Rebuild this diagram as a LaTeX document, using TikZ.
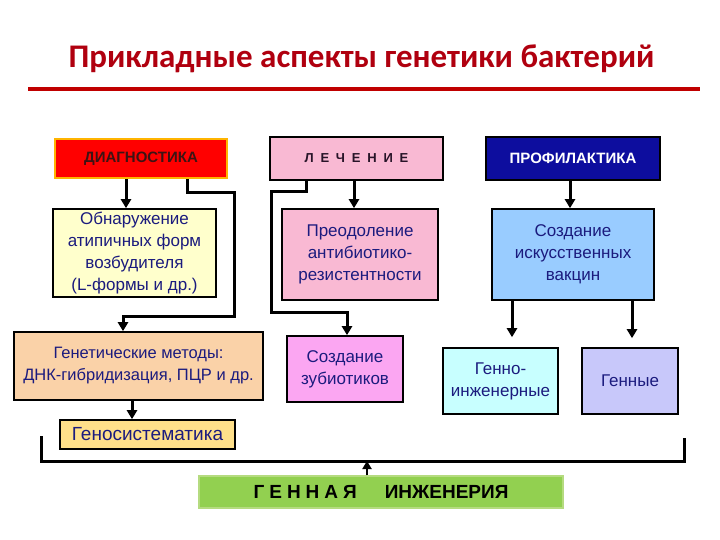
\documentclass[tikz,border=0pt]{standalone}
\usepackage{fontspec}
\setmainfont{Liberation Sans}
\newfontfamily\titlefont{Carlito}
\usetikzlibrary{arrows.meta}
\definecolor{titred}{HTML}{B0000F}
\definecolor{linered}{HTML}{C00000}
\definecolor{txtblue}{HTML}{1B1B7E}
\definecolor{diagred}{HTML}{FF0000}
\definecolor{diagborder}{HTML}{FFB400}
\definecolor{pinkA}{HTML}{F9B9D3}
\definecolor{profblue}{HTML}{0D0D9E}
\definecolor{yellowA}{HTML}{FFFFCC}
\definecolor{blueA}{HTML}{99CCFF}
\definecolor{peach}{HTML}{FAD2A8}
\definecolor{goldA}{HTML}{FFE08A}
\definecolor{violetA}{HTML}{FBA6F2}
\definecolor{cyanA}{HTML}{C8FFFF}
\definecolor{lavA}{HTML}{C8C8FA}
\definecolor{greenA}{HTML}{92D050}
\definecolor{greenB}{HTML}{B5DB80}
\tikzset{
  box/.style={draw=black, line width=1.6pt, align=center, inner sep=2pt, text=txtblue,
    font=\fontsize{17}{22}\selectfont},
  head/.style={box, font=\bfseries\fontsize{15}{18}\selectfont},
  conn/.style={draw=black, line width=3pt},
  arr/.style={conn, -{Triangle[length=9pt,width=10pt]}},
}
\begin{document}
\begin{tikzpicture}[x=1pt,y=-1pt]
\fill[white] (0,0) rectangle (720,540);
\useasboundingbox (0,0) rectangle (720,540);
% title
\node[anchor=base, text=titred, font=\titlefont\bfseries\fontsize{33}{40}\selectfont, inner sep=0] (title) at (361.5,68) {Прикладные аспекты генетики бактерий};
\draw[linered, line width=3.5pt] (28,89) coordinate (ul1) -- (700,89) coordinate (ul2);
% header row
\node[head, fill=diagred, draw=diagborder, text={rgb,255:red,60;green,20;blue,20}, minimum width=172pt, minimum height=39pt] (diag) at (141,158.5) {ДИАГНОСТИКА};
\node[head, fill=pinkA, text={rgb,255:red,40;green,20;blue,40}, font=\bfseries\fontsize{13}{16}\selectfont, minimum width=173pt, minimum height=43pt] (lech) at (356.5,158.5) {Л\hspace{6.8pt}Е\hspace{6.8pt}Ч\hspace{6.8pt}Е\hspace{6.8pt}Н\hspace{6.8pt}И\hspace{6.8pt}Е};
\node[head, fill=profblue, text=white, minimum width=174pt, minimum height=43pt] (prof) at (573,158.5) {ПРОФИЛАКТИКА};
% second row
\node[box, fill=yellowA, minimum width=163pt, minimum height=88pt, text depth=4pt] (obn) at (134.5,253) {Обнаружение\\атипичных форм\\возбудителя\\(L-формы и др.)};
\node[box, fill=pinkA, minimum width=156pt, minimum height=91pt, text depth=4pt] (preod) at (360,254.5) {Преодоление\\антибиотико-\\резистентности};
\node[box, fill=blueA, minimum width=162pt, minimum height=91pt] (vacc) at (573,254.5) {Создание\\искусственных\\вакцин};
% third row
\node[box, fill=peach, font=\fontsize{16.5}{22}\selectfont, minimum width=249pt, minimum height=68pt, text depth=4pt] (genmet) at (138.5,366) {Генетические методы:\\ДНК-гибридизация, ПЦР и др.};
\node[box, fill=violetA, minimum width=116pt, minimum height=66pt] (zub) at (345,369) {Создание\\зубиотиков};
\node[box, fill=cyanA, minimum width=115pt, minimum height=66pt] (gi) at (500.5,381) {Генно-\\инженерные};
\node[box, fill=lavA, minimum width=96pt, minimum height=66pt] (gen) at (630,381) {Генные};
\node[box, fill=goldA, font=\fontsize{19}{22}\selectfont, minimum width=175pt, minimum height=29pt] (genosys) at (147.5,434.5) {Геносистематика};
% bottom
\node[box, fill=greenA, draw=greenB, line width=1.2pt, text=black, font=\bfseries\fontsize{19}{22}\selectfont, minimum width=364pt, minimum height=32pt] (ge) at (381,492) {Г\hspace{5pt}Е\hspace{5pt}Н\hspace{5pt}Н\hspace{5pt}А\hspace{5pt}Я\hspace{28pt}ИНЖЕНЕРИЯ};
% connectors
\draw[arr] ([xshift=-15pt]diag.south) -- ([xshift=-8.5pt]obn.north);
\coordinate (j1) at (234,193);
\coordinate (j2) at (234,316);
\draw[arr] ([xshift=46pt]diag.south) |- (j1) -- (j2) -| ([xshift=-15.5pt]genmet.north);
\draw[arr] ([xshift=-2.5pt]lech.south) -- ([xshift=-6pt]preod.north);
\coordinate (k1) at (271,192);
\coordinate (k2) at (271,312);
\draw[arr] ([xshift=-50.5pt]lech.south) |- (k1) -- (k2) -| ([xshift=2pt]zub.north);
\draw[arr] ([xshift=-3pt]prof.south) -- ([xshift=-3pt]vacc.north);
\draw[arr] ([xshift=-61pt]vacc.south) -- ([xshift=11.5pt,yshift=10pt]gi.north);
\draw[arr] ([xshift=59pt]vacc.south) -- ([xshift=2pt,yshift=9pt]gen.north);
\draw[arr] ([xshift=-6.5pt]genmet.south) -- ([xshift=-15.5pt]genosys.north);
\coordinate (b1) at (41,436);
\coordinate (b2) at (41,461);
\coordinate (b3) at (684,461);
\coordinate (b4) at (684,438);
\draw[conn] (b1) -- (b2) -- (b3) -- (b4);
\draw[draw=black, line width=2pt, -{Triangle[length=8pt,width=9pt]}] ([xshift=-14pt]ge.north) -- ([xshift=-14pt]ge.north |- b2);
\end{tikzpicture}
\end{document}
